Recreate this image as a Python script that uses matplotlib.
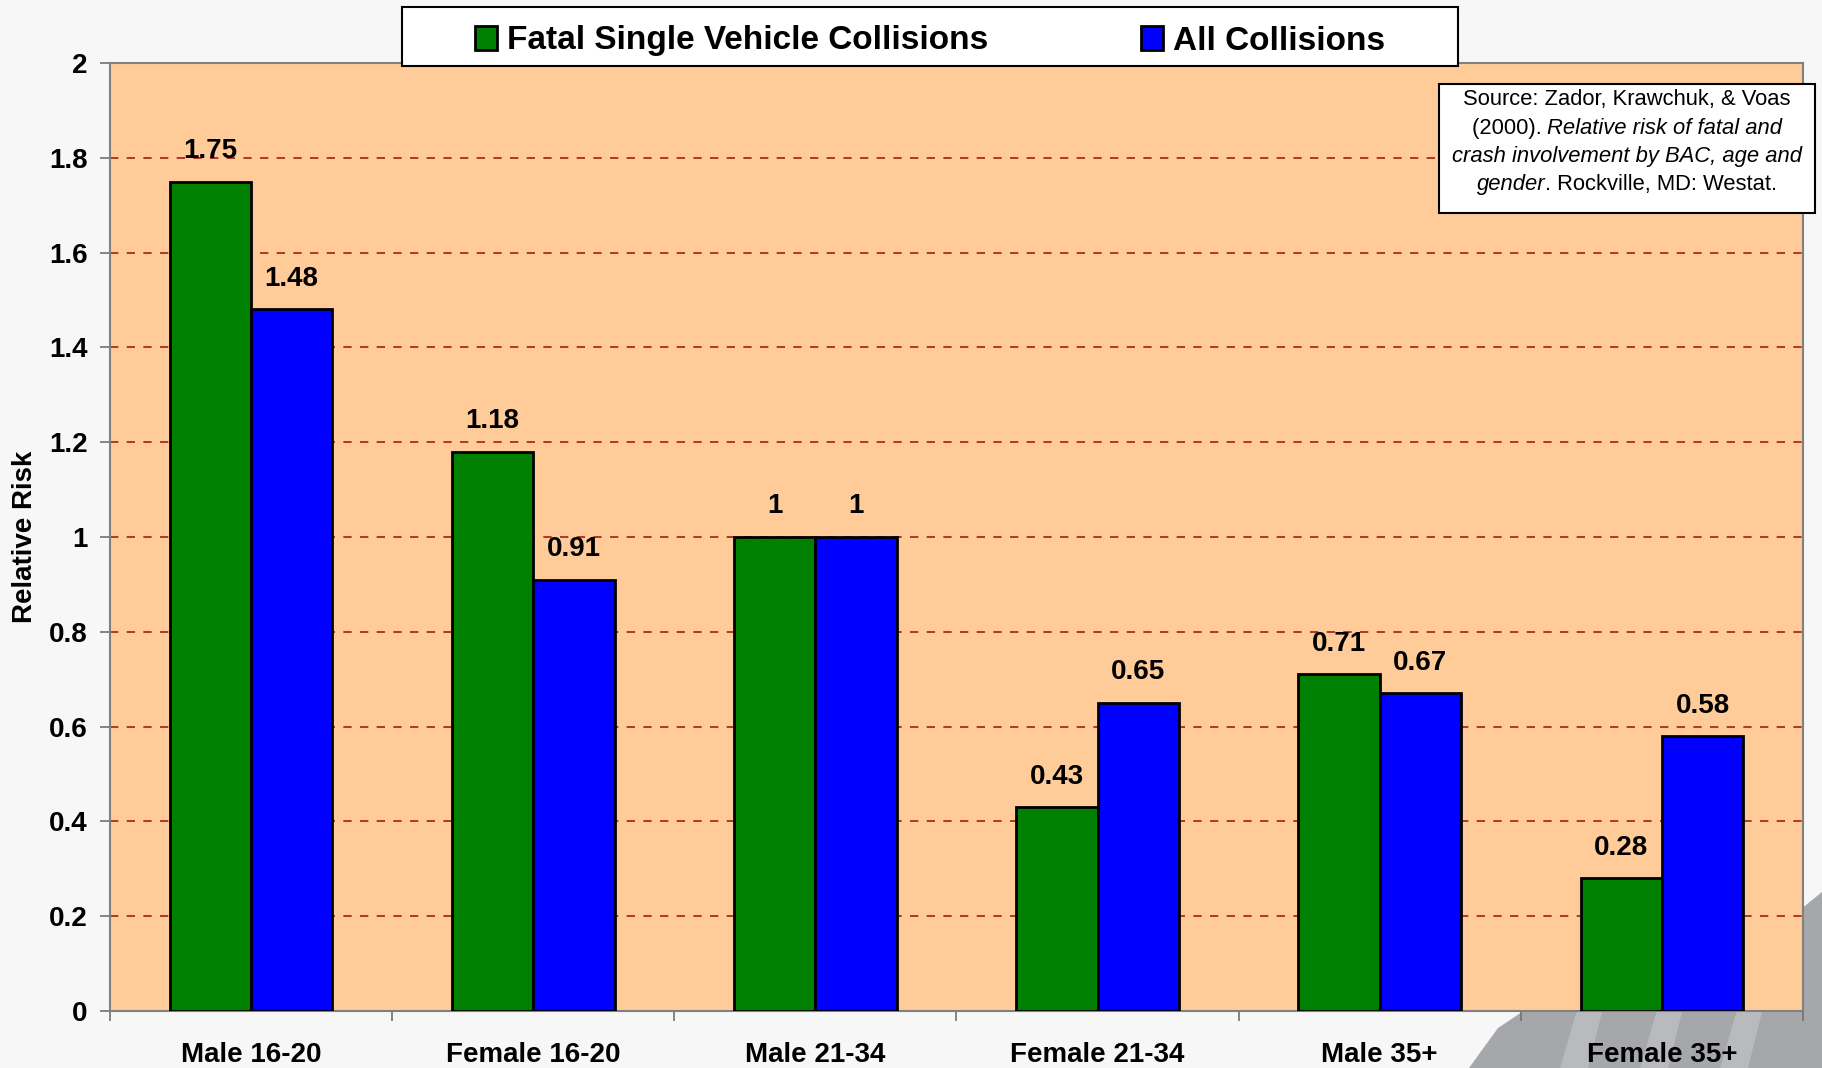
import matplotlib
matplotlib.use("Agg")
from matplotlib import pyplot as plt
from matplotlib.patches import Rectangle, Polygon

groups = ["Male 16-20", "Female 16-20", "Male 21-34", "Female 21-34", "Male 35+", "Female 35+"]
fatal = [1.75, 1.18, 1.00, 0.43, 0.71, 0.28]
all_coll = [1.48, 0.91, 1.00, 0.65, 0.67, 0.58]
fatal_lbl = ["1.75", "1.18", "1", "0.43", "0.71", "0.28"]
all_lbl = ["1.48", "0.91", "1", "0.65", "0.67", "0.58"]
yticks = [0, 0.2, 0.4, 0.6, 0.8, 1.0, 1.2, 1.4, 1.6, 1.8, 2.0]
ytick_lbl = ["0", "0.2", "0.4", "0.6", "0.8", "1", "1.2", "1.4", "1.6", "1.8", "2"]

plt.rcParams['font.family'] = ['Liberation Sans', 'DejaVu Sans']

W, H = 1822, 1068
fig = plt.figure(figsize=(W / 100, H / 100), dpi=100, facecolor='#f7f7f7')

# grey swoosh in the bottom right corner (template decoration)
def px(pts):
    return [(x / W, 1 - y / H) for x, y in pts]

fig.add_artist(Polygon(px([(1469, 1068), (1498, 1028), (1540, 1000), (1700, 940),
                           (1790, 918), (1822, 892), (1822, 1068)]),
                       closed=True, transform=fig.transFigure, facecolor='#a6a7ab',
                       edgecolor='none', zorder=-2))
for x0 in [1560, 1640, 1720]:
    fig.add_artist(Polygon(px([(x0, 1068), (x0 + 20, 1000), (x0 + 45, 1000), (x0 + 28, 1068)]),
                           closed=True, transform=fig.transFigure, facecolor='#b9babd',
                           edgecolor='none', zorder=-1))

ax = fig.add_axes([110 / W, 1 - 1011 / H, (1803 - 110) / W, (1011 - 63) / H])
ax.set_facecolor('#ffcc99')

w = 0.288
x = list(range(len(groups)))
b1 = ax.bar([i - w / 2 for i in x], fatal, width=w, color='#008000', edgecolor='black',
            linewidth=2, zorder=3, label='Fatal Single Vehicle Collisions')
b2 = ax.bar([i + w / 2 for i in x], all_coll, width=w, color='#0000ff', edgecolor='black',
            linewidth=2, zorder=3, label='All Collisions')

for i in x:
    ax.annotate(fatal_lbl[i], (i - w / 2, fatal[i]), xytext=(0, 22), textcoords='offset points',
                ha='center', va='center', fontsize=20, fontweight='bold')
    ax.annotate(all_lbl[i], (i + w / 2, all_coll[i]), xytext=(0, 22), textcoords='offset points',
                ha='center', va='center', fontsize=20, fontweight='bold')

ax.set_xlim(-0.5, 5.5)
ax.set_ylim(0, 2)
ax.set_yticks(yticks)
ax.set_yticklabels(ytick_lbl, fontsize=20, fontweight='bold')
ax.set_xticks([i - 0.5 for i in range(len(groups) + 1)])
ax.set_xticklabels([])
ax.set_xticks(x, minor=True)
ax.set_xticklabels(groups, minor=True, fontsize=20, fontweight='bold')
ax.tick_params(axis='x', which='minor', length=0, pad=22)
ax.tick_params(axis='both', which='major', length=7, width=1.2, color='#707070', direction='out')
ax.tick_params(axis='y', pad=9)

for y in yticks[1:-1]:
    ax.axhline(y, color='#a02010', linestyle=(0, (5, 5)), linewidth=1.2, zorder=1)

for s in ax.spines.values():
    s.set_color('#808080')
    s.set_linewidth(1.5)

ax.set_ylabel('Relative Risk', fontsize=20, fontweight='bold', labelpad=8)

# legend: white box with black frame across the top
fig.add_artist(Rectangle((402 / W, 1 - 66 / H), (1458 - 402) / W, 59 / H,
                         transform=fig.transFigure, facecolor='white', edgecolor='black',
                         linewidth=1.5, zorder=4))
leg = fig.legend(handles=[b1, b2], loc='center', ncol=2,
                 bbox_to_anchor=(930 / W, 1 - 41 / H),
                 prop={'weight': 'bold', 'size': 24}, frameon=False,
                 handlelength=0.65, handleheight=0.75, handletextpad=0.3,
                 columnspacing=4.6, borderaxespad=0)
leg.set_zorder(5)

# source box
box = Rectangle((1439 / W, 1 - 213 / H), (1815 - 1439) / W, (213 - 84) / H,
                transform=fig.transFigure, facecolor='white', edgecolor='black',
                linewidth=1.5, zorder=10)
fig.add_artist(box)

lines = [
    [("Source: Zador, Krawchuk, & Voas", 'normal')],
    [("(2000). ", 'normal'), ("Relative risk of fatal and", 'italic')],
    [("crash involvement by BAC, age and", 'italic')],
    [("gender", 'italic'), (". Rockville, MD: Westat.", 'normal')],
]
renderer = fig.canvas.get_renderer()
cx = 1627
for k, parts in enumerate(lines):
    cy = 100 + k * 28.3
    texts = []
    total = 0
    for s, st in parts:
        t = fig.text(0, 1 - cy / H, s, fontsize=15.8, style=st, ha='left', va='center', zorder=11)
        wpx = t.get_window_extent(renderer).width
        texts.append((t, wpx))
        total += wpx
    xx = cx - total / 2
    for t, wpx in texts:
        t.set_x(xx / W)
        xx += wpx

fig.savefig('out.png', dpi=100, facecolor=fig.get_facecolor())
